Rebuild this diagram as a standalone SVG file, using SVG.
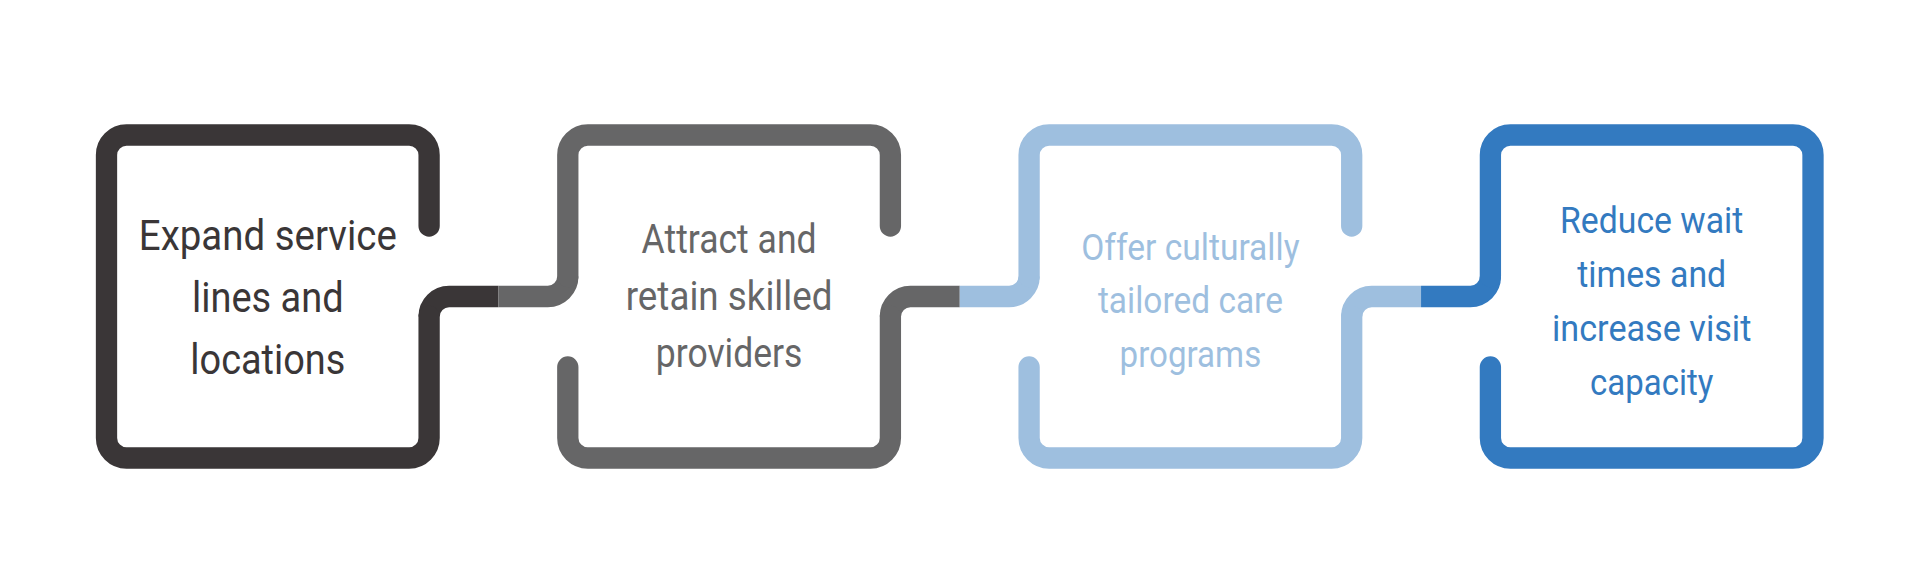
<svg xmlns="http://www.w3.org/2000/svg" width="1920" height="586" viewBox="0 0 1920 586">
  <style>
    .node path { fill: none; stroke-width: 21.3; stroke-linecap: round; stroke-linejoin: round; }
    #connectors path { fill: none; stroke-width: 21.3; stroke-linecap: butt; }
    text { font-family: Roboto, "Liberation Sans", sans-serif; text-anchor: middle; }
    .c1 { stroke: #3a3637; fill: #3a3637; }
    .c2 { stroke: #666667; fill: #666667; }
    .c3 { stroke: #9ebfdf; fill: #9ebfdf; }
    .c4 { stroke: #337ac0; fill: #337ac0; }
    .t1 { fill: #3a3637; font-size: 42px; }
    .t2 { fill: #666667; font-size: 40px; }
    .t3 { fill: #9ebfdf; font-size: 37.5px; }
    .t4 { fill: #337ac0; font-size: 37px; }
  </style>
  <rect width="1920" height="586" fill="#ffffff"/>

  <g id="connectors">
    <path class="c1" d="M 429.1 316.5 A 20 20 0 0 1 449.1 296.5 H 498.45"/>
    <path class="c2" d="M 498.45 296.5 H 547.8 A 20 20 0 0 0 567.8 276.5"/>
    <path class="c2" d="M 890.4 316.5 A 20 20 0 0 1 910.4 296.5 H 959.75"/>
    <path class="c3" d="M 959.75 296.5 H 1009.1 A 20 20 0 0 0 1029.1 276.5"/>
    <path class="c3" d="M 1351.7 316.5 A 20 20 0 0 1 1371.7 296.5 H 1421.05"/>
    <path class="c4" d="M 1421.05 296.5 H 1470.4 A 20 20 0 0 0 1490.4 276.5"/>
  </g>

  <g id="node1" class="node">
    <path class="c1" style="fill:none" d="M 429.1 226 V 155 A 20 20 0 0 0 409.1 135 H 126.5 A 20 20 0 0 0 106.5 155 V 438 A 20 20 0 0 0 126.5 458 H 409.1 A 20 20 0 0 0 429.1 438 V 316.5"/>
    <text class="t1" x="267.8" y="250" textLength="258" lengthAdjust="spacingAndGlyphs">Expand service</text>
    <text class="t1" x="267.8" y="312" textLength="151.7" lengthAdjust="spacingAndGlyphs">lines and</text>
    <text class="t1" x="267.8" y="374" textLength="155" lengthAdjust="spacingAndGlyphs">locations</text>
  </g>

  <g id="node2" class="node">
    <path class="c2" style="fill:none" d="M 567.8 276.5 V 155 A 20 20 0 0 1 587.8 135 H 870.4 A 20 20 0 0 1 890.4 155 V 226 M 567.8 367 V 438 A 20 20 0 0 0 587.8 458 H 870.4 A 20 20 0 0 0 890.4 438 V 316.5"/>
    <text class="t2" x="729.1" y="253" textLength="175" lengthAdjust="spacingAndGlyphs">Attract and</text>
    <text class="t2" x="729.1" y="310" textLength="206.7" lengthAdjust="spacingAndGlyphs">retain skilled</text>
    <text class="t2" x="729.1" y="367" textLength="146.7" lengthAdjust="spacingAndGlyphs">providers</text>
  </g>

  <g id="node3" class="node">
    <path class="c3" style="fill:none" d="M 1029.1 276.5 V 155 A 20 20 0 0 1 1049.1 135 H 1331.7 A 20 20 0 0 1 1351.7 155 V 226 M 1029.1 367 V 438 A 20 20 0 0 0 1049.1 458 H 1331.7 A 20 20 0 0 0 1351.7 438 V 316.5"/>
    <text class="t3" x="1190.4" y="260" textLength="218.3" lengthAdjust="spacingAndGlyphs">Offer culturally</text>
    <text class="t3" x="1190.4" y="313.3" textLength="185" lengthAdjust="spacingAndGlyphs">tailored care</text>
    <text class="t3" x="1190.4" y="366.5" textLength="141.7" lengthAdjust="spacingAndGlyphs">programs</text>
  </g>

  <g id="node4" class="node">
    <path class="c4" style="fill:none" d="M 1490.4 276.5 V 155 A 20 20 0 0 1 1510.4 135 H 1793 A 20 20 0 0 1 1813 155 V 438 A 20 20 0 0 1 1793 458 H 1510.4 A 20 20 0 0 1 1490.4 438 V 367"/>
    <text class="t4" x="1651.7" y="233" textLength="183.3" lengthAdjust="spacingAndGlyphs">Reduce wait</text>
    <text class="t4" x="1651.7" y="287" textLength="149" lengthAdjust="spacingAndGlyphs">times and</text>
    <text class="t4" x="1651.7" y="341" textLength="199.3" lengthAdjust="spacingAndGlyphs">increase visit</text>
    <text class="t4" x="1651.7" y="395" textLength="123.3" lengthAdjust="spacingAndGlyphs">capacity</text>
  </g>
</svg>
